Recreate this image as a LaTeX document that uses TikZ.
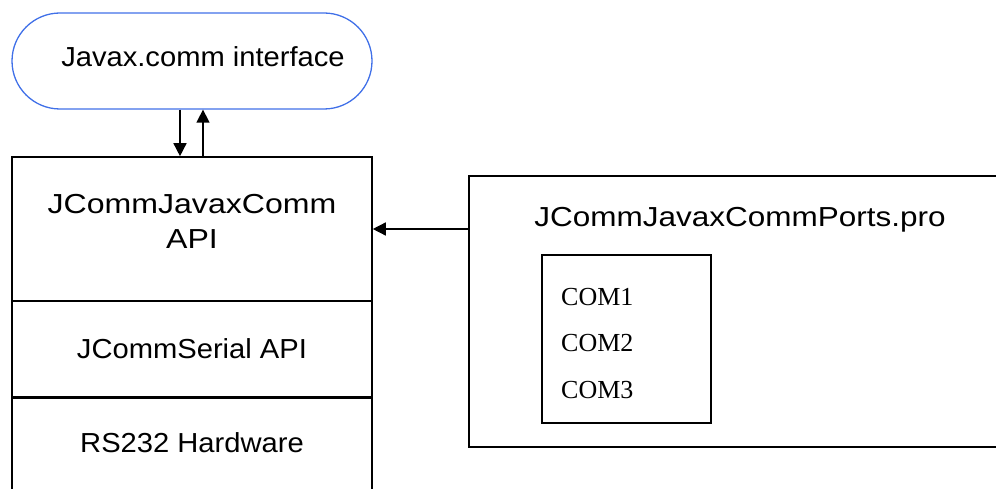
\documentclass[tikz,border=0pt]{standalone}
\usepackage{fontspec}
\setmainfont{Liberation Sans}[FakeStretch=1.06]
\newfontfamily\comfont{Liberation Serif}
\usetikzlibrary{arrows.meta,calc}
\definecolor{stadblue}{RGB}{64,112,232}
\begin{document}
\begin{tikzpicture}[x=1pt,y=-1pt,
  box/.style={draw=black,line width=1.6pt,minimum width=360pt,inner sep=0pt},
  stadium/.style={draw=stadblue,line width=1.3pt,rounded corners=48pt,minimum width=360pt,minimum height=96pt,inner sep=0pt},
  arr/.style={line width=1.5pt,-{Triangle[length=13pt,width=13pt]}},
  lbl/.style={font=\fontsize{27.5}{35}\selectfont,align=center,inner sep=0pt},
  com/.style={font=\comfont\fontsize{26}{28}\selectfont,anchor=west,inner sep=0pt}]
\useasboundingbox (0,0) rectangle (996,489);
% stadium
\node[stadium] (javax) at (192,61) {};
\node[lbl] (javaxtext) at (203,57) {Javax.comm interface};
% left stack
\node[box,minimum height=144pt] (top) at (192,229) {};
\node[lbl] (toptext) at (192,221) {\scalebox{1.1}[1]{JCommJavaxComm}\\\scalebox{1.1}[1]{API}};
\node[box,minimum height=96pt,lbl] (serial) at (192,349) {JCommSerial API};
\node[box,minimum height=150pt,anchor=north] (hw) at (192,397) {};
\node[lbl] (hwtext) at (192,443) {RS232 Hardware};
% right box
\node[box,minimum width=560pt,minimum height=271pt,anchor=north west] (ports) at (468,175) {};
\node[lbl] (portstitle) at (740,220) {\scalebox{1.08}[1]{JCommJavaxCommPorts.pro}};
\node[box,minimum width=169pt,minimum height=168pt,anchor=north west] (inner) at (541,254) {};
\node[com] (c1) at (561,297) {COM1};
\node[com] (c2) at (561,343) {COM2};
\node[com] (c3) at (561,390) {COM3};
% arrows
\draw[arr] ([xshift=-12pt]javax.south) -- ([xshift=-12pt]top.north);
\draw[arr] ([xshift=11pt]top.north) -- ([xshift=11pt]javax.south);
\draw[arr] (top.east -| ports.west) -- (top.east);
\end{tikzpicture}
\end{document}
